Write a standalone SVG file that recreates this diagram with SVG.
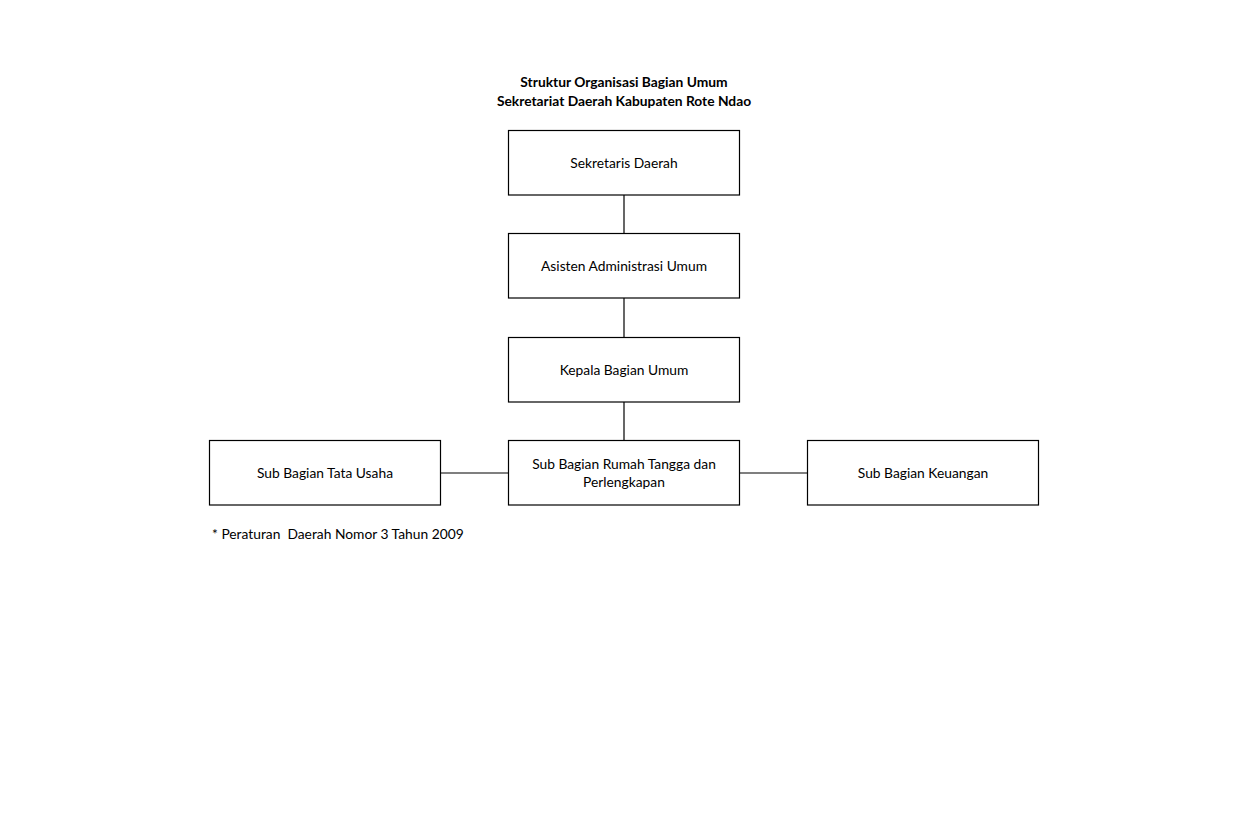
<svg xmlns="http://www.w3.org/2000/svg" width="1248" height="816" viewBox="0 0 1248 816">
<style>
.box{fill:#fff;stroke:#000;stroke-width:1.2}
.t{font-family:Lato,"Open Sans","Liberation Sans",sans-serif;font-size:13.8px;fill:#000;text-anchor:middle}
.h{font-weight:bold}
.c{stroke:#000;stroke-width:1.2;fill:none}
</style>
<rect width="1248" height="816" fill="#fff"/>
<text class="t h" x="624" y="87">Struktur Organisasi Bagian Umum</text>
<text class="t h" x="624" y="106">Sekretariat Daerah Kabupaten Rote Ndao</text>
<g id="connectors">
<line class="c" x1="624" y1="195" x2="624" y2="233"/>
<line class="c" x1="624" y1="298" x2="624" y2="337"/>
<line class="c" x1="624" y1="402" x2="624" y2="440"/>
<line class="c" x1="441" y1="473" x2="508" y2="473"/>
<line class="c" x1="740" y1="473" x2="807" y2="473"/>
</g>
<g id="sekda"><rect class="box" x="508.5" y="130.5" width="231" height="64.5"/><text class="t" x="624" y="168">Sekretaris Daerah</text></g>
<g id="asisten"><rect class="box" x="508.5" y="233.5" width="231" height="64.5"/><text class="t" x="624" y="271">Asisten Administrasi Umum</text></g>
<g id="kabag"><rect class="box" x="508.5" y="337.5" width="231" height="64.5"/><text class="t" x="624" y="375">Kepala Bagian Umum</text></g>
<g id="rumahtangga"><rect class="box" x="508.5" y="440.5" width="231" height="64.5"/><text class="t" x="624" y="469">Sub Bagian Rumah Tangga dan</text><text class="t" x="624" y="487">Perlengkapan</text></g>
<g id="tatausaha"><rect class="box" x="209.5" y="440.5" width="231" height="64.5"/><text class="t" x="325" y="478">Sub Bagian Tata Usaha</text></g>
<g id="keuangan"><rect class="box" x="807.5" y="440.5" width="231" height="64.5"/><text class="t" x="923" y="478">Sub Bagian Keuangan</text></g>
<text class="t" x="212" y="539" style="text-anchor:start;white-space:pre" xml:space="preserve">* Peraturan  Daerah Nomor 3 Tahun 2009</text>
</svg>
